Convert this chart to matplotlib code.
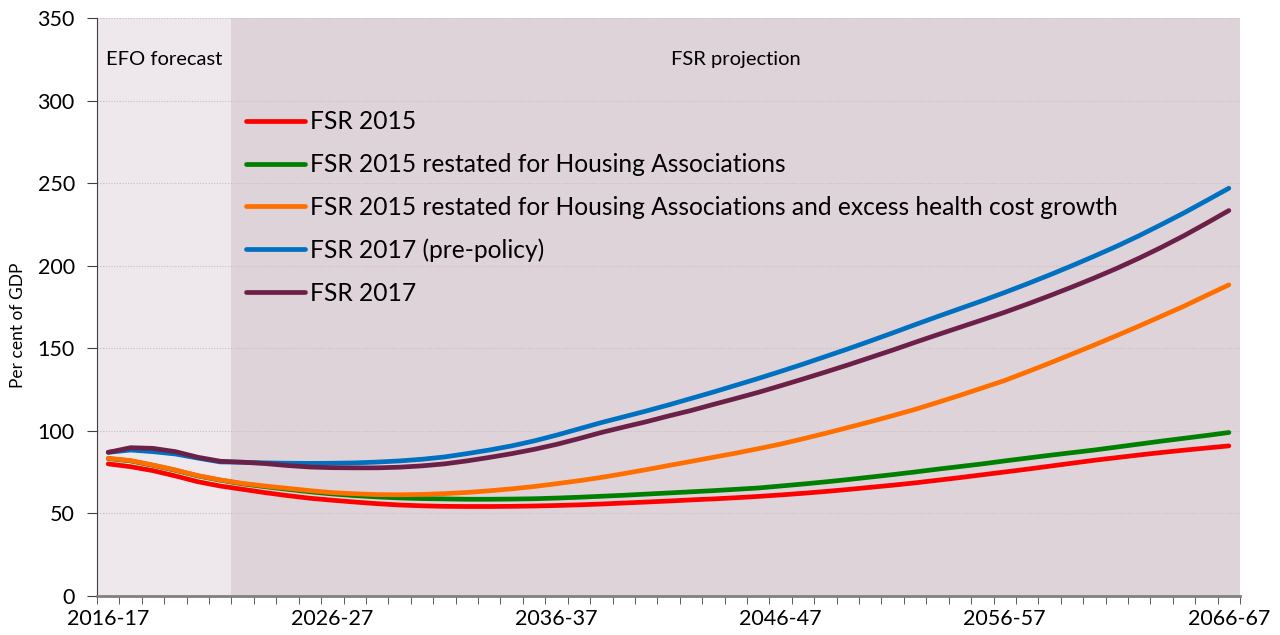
import matplotlib.pyplot as plt
import numpy as np

# ---------------------------------------------------------------
# Dados: dívida do setor público (% do PIB), 2016-17 a 2066-67
# ---------------------------------------------------------------
ANOS = [f"{a}-{str(a + 1)[-2:]}" for a in range(2016, 2067)]

FSR_2015 = [80.0, 78.3, 75.9, 72.7, 69.2, 66.6, 64.6, 62.6, 60.8, 59.2,
            58.0, 56.9, 55.9, 55.1, 54.6, 54.3, 54.2, 54.2, 54.3, 54.5,
            54.8, 55.2, 55.7, 56.3, 56.9, 57.5, 58.2, 58.8, 59.5, 60.3,
            61.2, 62.2, 63.3, 64.5, 65.8, 67.1, 68.5, 70.1, 71.7, 73.4,
            75.1, 76.8, 78.6, 80.4, 82.2, 83.8, 85.4, 86.9, 88.3, 89.6,
            90.9]

FSR_2015_HA = [83.2, 81.8, 79.1, 76.1, 72.7, 70.1, 67.9, 66.2, 64.6, 63.1,
               61.8, 60.8, 60.0, 59.4, 59.0, 58.8, 58.6, 58.6, 58.7, 58.9,
               59.3, 59.8, 60.4, 61.0, 61.7, 62.4, 63.1, 63.8, 64.6, 65.4,
               66.6, 67.8, 69.1, 70.5, 72.0, 73.5, 75.1, 76.8, 78.4, 80.0,
               81.8, 83.5, 85.2, 86.8, 88.4, 90.2, 92.0, 93.8, 95.5, 97.2,
               99.0]

FSR_2015_HA_SAUDE = [83.4, 82.0, 79.3, 76.3, 72.9, 70.3, 68.2, 66.6, 65.2, 63.8,
                     62.6, 61.9, 61.4, 61.3, 61.5, 62.0, 62.7, 63.7, 64.9, 66.3,
                     68.0, 69.8, 71.8, 74.1, 76.5, 79.0, 81.5, 84.0, 86.5, 89.2,
                     92.0, 95.2, 98.5, 102.0, 105.5, 109.2, 113.0, 117.2, 121.5, 126.0,
                     130.5, 135.7, 141.0, 146.5, 152.0, 157.7, 163.5, 169.5, 175.5, 182.0,
                     188.4]

FSR_2017_PRE = [87.0, 88.4, 87.4, 86.0, 83.5, 81.2, 81.0, 80.6, 80.4, 80.3,
                80.4, 80.6, 81.1, 81.8, 82.8, 84.2, 86.2, 88.4, 90.9, 93.9,
                97.4, 101.2, 105.0, 108.5, 112.0, 115.7, 119.6, 123.5, 127.6, 131.7,
                136.0, 140.4, 145.0, 149.6, 154.4, 159.3, 164.3, 169.2, 174.0, 178.8,
                183.8, 189.0, 194.4, 200.0, 205.8, 211.8, 218.2, 225.0, 232.0, 239.4,
                246.9]

FSR_2017 = [87.0, 89.8, 89.4, 87.4, 84.0, 81.6, 81.0, 80.2, 79.0, 78.1,
            77.7, 77.6, 77.6, 78.0, 78.8, 80.0, 81.8, 83.9, 86.2, 88.8,
            91.8, 95.3, 99.0, 102.3, 105.5, 109.0, 112.3, 116.0, 119.6, 123.3,
            127.3, 131.4, 135.6, 139.9, 144.4, 148.9, 153.6, 158.2, 162.7, 167.2,
            171.8, 176.7, 181.8, 187.1, 192.6, 198.4, 204.6, 211.2, 218.2, 225.7,
            233.4]

SERIES = [
    ('FSR 2015', FSR_2015, '#ff0000'),
    ('FSR 2015 restated for Housing Associations', FSR_2015_HA, '#008000'),
    ('FSR 2015 restated for Housing Associations and excess health cost growth', FSR_2015_HA_SAUDE, '#ff6f00'),
    ('FSR 2017 (pre-policy)', FSR_2017_PRE, '#0070c0'),
    ('FSR 2017', FSR_2017, '#6b2048'),
]

N_ANOS_EFO = 6  # 2016-17 a 2021-22

# ---------------------------------------------------------------
# Gráfico
# ---------------------------------------------------------------
plt.rcParams['font.family'] = ['Lato', 'DejaVu Sans']

fig = plt.figure(figsize=(12.8, 6.35), dpi=100)
ax = fig.add_axes([0.0758, 0.0614, 0.8930, 0.9103])

x = np.arange(len(ANOS))

# faixas de fundo
ax.axvspan(-0.5, N_ANOS_EFO - 0.5, color='#eee7ec', zorder=0, lw=0)
ax.axvspan(N_ANOS_EFO - 0.5, len(ANOS) - 0.5, color='#dfd3da', zorder=0, lw=0)

for nome, valores, cor in SERIES:
    ax.plot(x, valores, color=cor, linewidth=3.4, label=nome,
            solid_capstyle='round', zorder=3)

ax.set_xlim(-0.5, len(ANOS) - 0.5)
ax.set_ylim(0, 350)
ax.set_yticks(np.arange(0, 351, 50))
ax.grid(axis='y', color='#c9bcc4', linestyle=(0, (1, 1.5)), linewidth=0.8, zorder=1)

ax.set_xticks(x[::10])
ax.set_xticklabels(ANOS[::10])
ax.set_xticks(np.arange(-0.5, len(ANOS), 1), minor=True)
ax.tick_params(axis='x', which='major', length=0, pad=9, labelsize=15.5)
ax.tick_params(axis='x', which='minor', length=6, color='#404040', direction='out')
ax.tick_params(axis='y', length=7, color='#404040', labelsize=15.5, pad=9)

for lado in ['top', 'right']:
    ax.spines[lado].set_visible(False)
ax.spines['left'].set_color('#404040')
ax.spines['bottom'].set_color('#808080')
ax.spines['bottom'].set_linewidth(2)

ax.set_ylabel('Per cent of GDP', fontsize=12.5)
ax.yaxis.set_label_coords(-0.062, 0.469)

ax.text((N_ANOS_EFO - 1) / 2, 325, 'EFO forecast', ha='center', va='center', fontsize=14.5)
ax.text((N_ANOS_EFO - 0.5 + len(ANOS) - 0.5) / 2, 325, 'FSR projection', ha='center', va='center', fontsize=14.5)

ax.legend(loc='upper left', bbox_to_anchor=(0.13, 0.84), frameon=False, fontsize=17.7,
          handlelength=2.4, handletextpad=0.22, labelspacing=0.80, borderpad=0, borderaxespad=0)

fig.savefig('out.png', dpi=100)
